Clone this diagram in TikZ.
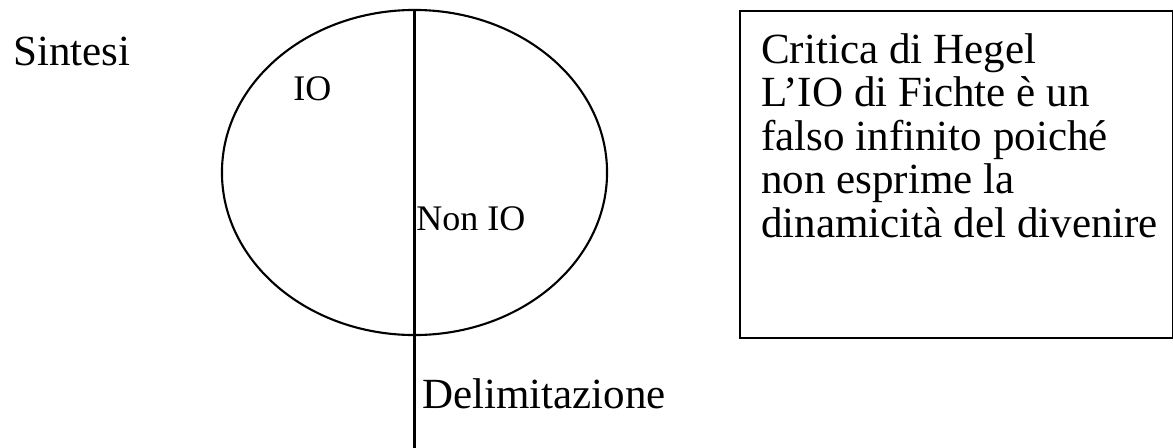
\documentclass[tikz,border=0pt]{standalone}
\usepackage{fontspec}
\setmainfont{Liberation Serif}
\usetikzlibrary{shapes.geometric,positioning}

\tikzset{
 bigtext/.style={anchor=base west,inner sep=0pt,font=\fontsize{30.6pt}{30.9pt}\selectfont},
 smalltext/.style={anchor=base west,inner sep=0pt,font=\fontsize{25.6pt}{27pt}\selectfont},
 outline/.style={draw,line width=1.5pt}
}

\begin{document}
\begin{tikzpicture}[x=0.025cm,y=-0.025cm]
 \useasboundingbox (0,0) rectangle (1173,448);
 \node[outline,ellipse,minimum width=9.625cm,minimum height=8.125cm,inner sep=0pt] (sfera) at (414.5,172.5) {};
 \coordinate (fondo) at (414.5,448);
 \draw[line width=1.5pt] (sfera.north) -- (fondo);

 \node[outline,rectangle,anchor=north west,inner sep=0pt,minimum width=10.825cm,minimum height=8.175cm] (critica) at (739,10) {};

 \node[bigtext] (sintesi) at (13,65) {Sintesi};
 \node[smalltext] (io) at (293,100) {IO};
 \node[smalltext] (nonio) at (416,230) {Non IO};
 \node[bigtext] (delim) at (422,408) {Delimitazione};

 \node[bigtext] (riga1) at (761,63) {Critica di Hegel};
 \node[bigtext] (riga2) at (761,106.5) {L'IO di Fichte è un};
 \node[bigtext] (riga3) at (761,150) {falso infinito poiché};
 \node[bigtext] (riga4) at (761,193.5) {non esprime la};
 \node[bigtext] (riga5) at (761,237) {dinamicità del divenire};
\end{tikzpicture}
\end{document}
